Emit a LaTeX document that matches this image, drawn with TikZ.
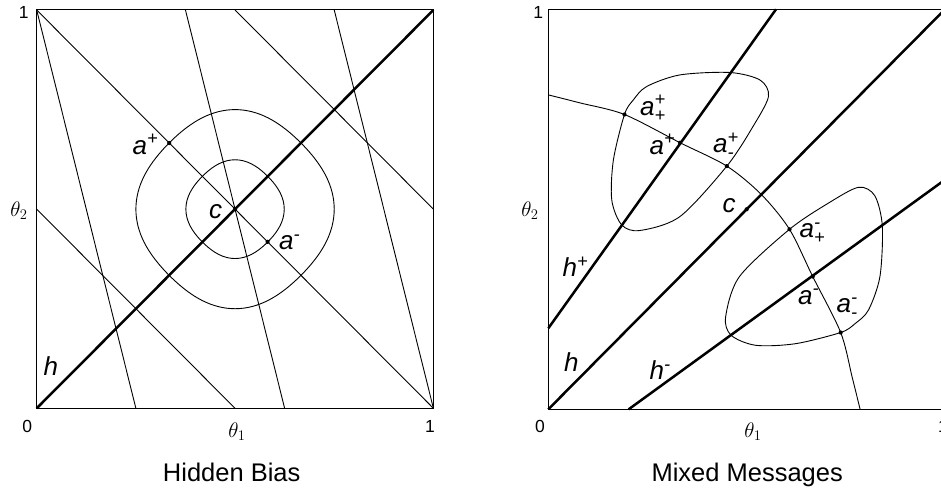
\documentclass[tikz,border=0pt]{standalone}
\usepackage{graphicx}
\usepackage{amsmath}
\usepackage[no-math]{fontspec}
\setmainfont{Liberation Sans}
\usetikzlibrary{calc}

\newcommand{\axisname}[1]{\scalebox{1.22}{$#1$}}

\begin{document}
\begin{tikzpicture}[
    x=1pt, y=1pt,
    thinline/.style={line width=0.9pt},
    thickline/.style={line width=2.5pt},
    boxline/.style={line width=1pt},
    dot/.style={circle, fill, inner sep=0pt, minimum size=4.2pt},
    lab/.style={anchor=base west, inner sep=0pt, font=\fontsize{26}{30}\selectfont\itshape},
    numlab/.style={inner sep=0pt, font=\fontsize{17.5}{20}\selectfont},
    axislab/.style={inner sep=0pt, font=\fontsize{17.28}{20}\selectfont},
    paneltitle/.style={anchor=base, inner sep=0pt, font=\fontsize{25.5}{30}\selectfont}
]
\useasboundingbox (0,0) rectangle (941,491);

% Hidden Bias panel
\begin{scope}[shift={(36.7pt,82.7pt)}, x=396.7pt, y=398.3pt]
  \draw[boxline] (0,0) rectangle (1,1);
  % level lines
  \draw[thinline] (0,1) -- (1,0);
  \draw[thinline] (0,0.5) -- (0.5,0);
  \draw[thinline] (0.5,1) -- (1,0.5);
  \draw[thinline] (0,1) -- (0.25,0);
  \draw[thinline] (0.375,1) -- (0.625,0);
  \draw[thinline] (0.75,1) -- (1,0);
  % contours round c
  \foreach \r in {0.124,0.25}
    \draw[thinline] plot[smooth cycle, domain=0:355, samples=72]
      ({0.5+\r*(1-0.06*pow(sin(2*\x),2))*cos(\x)},
       {0.5+\r*(1-0.06*pow(sin(2*\x),2))*sin(\x)});
  \draw[thickline] (0,0) -- (1,1);
  \node[dot] (cL) at (0.5,0.5) {};
  \node[dot] (apL) at (0.334,0.666) {};
  \node[dot] (amL) at (0.582,0.418) {};
\end{scope}

% Mixed Messages panel
\begin{scope}[shift={(548.3pt,81.7pt)}, x=396.7pt, y=400pt]
  \draw[boxline] (0,0) rectangle (1,1);
  % upper blob
  \draw[thinline] plot[smooth cycle] coordinates {
    (0.458,0.842) (0.332,0.836) (0.248,0.807) (0.214,0.773) (0.192,0.737)
    (0.164,0.623) (0.160,0.523) (0.185,0.461) (0.231,0.447) (0.332,0.482)
    (0.450,0.608) (0.516,0.707) (0.555,0.782) (0.534,0.823)};
  % lower blob
  \draw[thinline] plot[smooth cycle] coordinates {
    (0.842,0.458) (0.836,0.332) (0.807,0.248) (0.773,0.214) (0.737,0.192)
    (0.623,0.164) (0.523,0.160) (0.461,0.185) (0.447,0.231) (0.482,0.332)
    (0.608,0.450) (0.707,0.516) (0.782,0.555) (0.823,0.534)};
  % arc
  \draw[thinline] plot[smooth] coordinates {
    (0,0.786) (0.08,0.766) (0.192,0.737) (0.332,0.6665) (0.450,0.608)
    (0.537,0.537) (0.608,0.450) (0.6665,0.332) (0.737,0.192) (0.766,0.08)
    (0.786,0)};
  \draw[thickline] (0,0) -- (1,1);
  \draw[thickline] (0,0.2025) -- (0.574,1);
  \draw[thickline] (0.2025,0) -- (1,0.574);
  \node[dot] (cR) at (0.5,0.5) {};
  \node[dot] (appR) at (0.192,0.737) {};
  \node[dot] (apR) at (0.332,0.6665) {};
  \node[dot] (apmR) at (0.450,0.608) {};
  \node[dot] (ampR) at (0.608,0.450) {};
  \node[dot] (amR) at (0.6665,0.332) {};
  \node[dot] (ammR) at (0.737,0.192) {};
\end{scope}

% Labels, left
\node[lab] (apLlab) at (132.5,337) {a$^{\text{+}}$};
\node[lab] (cLlab) at (209,272.7) {c};
\node[lab] (amLlab) at (279,241.7) {a$^{\text{-}}$};
\node[lab] (hLlab) at (43.5,116) {h};
\node[numlab] (oneLt) at (23.7,478.8) {1};
\node[numlab] (zeroL) at (27.2,64.3) {0};
\node[numlab] (oneLb) at (430,64.3) {1};
\node[axislab] (thtwoL) at (19,280) {\axisname{\theta_2}};
\node[axislab] (thoneL) at (237,59) {\axisname{\theta_1}};
\node[paneltitle] (titleL) at (231.7,9.3) {Hidden Bias};

% Labels, right
\node[lab] (appRlab) at (640,376) {a$^{\text{+}}_{\text{+}}$};
\node[lab] (apRlab) at (649.5,337) {a$^{\text{+}}$};
\node[lab] (apmRlab) at (713,338.3) {a$^{\text{+}}_{\text{-}}$};
\node[lab] (cRlab) at (722.5,278.7) {c};
\node[lab] (ampRlab) at (799.5,253.7) {a$^{\text{-}}_{\text{+}}$};
\node[lab] (amRlab) at (798,187) {a$^{\text{-}}$};
\node[lab] (ammRlab) at (836.5,178.7) {a$^{\text{-}}_{\text{-}}$};
\node[lab] (hpRlab) at (562.5,214.3) {h$^{\text{+}}$};
\node[lab] (hRlab) at (564,119.3) {h};
\node[lab] (hmRlab) at (649.5,111.7) {h$^{\text{-}}$};
\node[numlab] (oneRt) at (538.3,478.8) {1};
\node[numlab] (zeroR) at (540,64.3) {0};
\node[numlab] (oneRb) at (943,64.3) {1};
\node[axislab] (thtwoR) at (530,280) {\axisname{\theta_2}};
\node[axislab] (thoneR) at (753,59) {\axisname{\theta_1}};
\node[paneltitle] (titleR) at (747.2,9.3) {Mixed Messages};

\end{tikzpicture}
\end{document}
